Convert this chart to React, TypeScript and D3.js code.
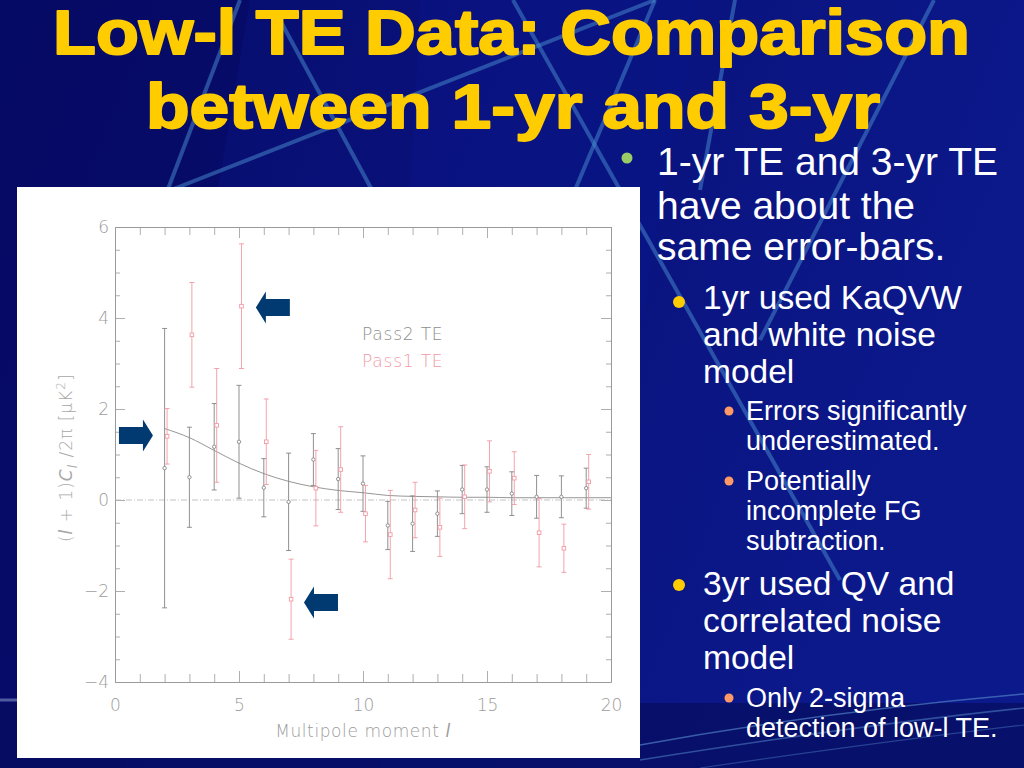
import React, { useEffect, useRef } from 'react';
import * as d3 from 'd3';

// multipole moments and TE band powers
const ells = [2, 3, 4, 5, 6, 7, 8, 9, 10, 11, 12, 13, 14, 15, 16, 17, 18, 19];
const pass2Values = [0.70, 0.50, 1.17, 1.28, 0.27, -0.04, 0.89, 0.46, 0.36, -0.56, -0.52, -0.30, 0.23, 0.23, 0.14, 0.07, 0.07, 0.26];
const pass2Errors = [3.07, 1.10, 0.95, 1.24, 0.64, 1.07, 0.57, 0.67, 0.61, 0.53, 0.61, 0.50, 0.53, 0.50, 0.48, 0.47, 0.46, 0.44];
const pass1Values = [1.40, 3.63, 1.64, 4.26, 1.28, -2.18, 0.26, 0.67, -0.30, -0.76, -0.22, -0.60, 0.07, 0.63, 0.48, -0.72, -1.06, 0.40];
const pass1Errors = [0.61, 1.15, 1.25, 1.37, 0.94, 0.88, 0.83, 0.94, 0.62, 0.97, 0.61, 0.64, 0.70, 0.67, 0.58, 0.75, 0.53, 0.60];

// model curve
const modelEll = [2, 3, 4, 5, 6, 7, 8, 9, 10, 11, 12, 13, 14, 15, 16, 17, 18, 19, 20];
const modelValues = [1.57, 1.37, 1.09, 0.81, 0.58, 0.41, 0.29, 0.21, 0.16, 0.10, 0.08, 0.07, 0.06, 0.06, 0.05, 0.05, 0.05, 0.05, 0.05];

const xTickLabels = [0, 5, 10, 15, 20];
const yTickLabels = [-4, -2, 0, 2, 4, 6];
const legendLabels = ['Pass2 TE', 'Pass1 TE'];

// annotation arrows (tip position in data units, direction)
const arrowEll = [5.68, 1.53, 7.62];
const arrowValues = [4.23, 1.42, -2.25];
const arrowDirs = [-1, 1, -1];

const GRAY = '#8e8e8e';
const PINK = '#f19aa4';
const LABEL_FONT = "'DejaVu Sans', 'Noto Sans', sans-serif";
const SLIDE_FONT = "'Liberation Sans', Arial, sans-serif";

const fmtMinus = (v: number) => (v < 0 ? '\u2212' + Math.abs(v) : String(v));

const TEChart: React.FC = () => {
  const gRef = useRef<SVGGElement>(null);

  useEffect(() => {
    if (!gRef.current) return;
    const g = d3.select(gRef.current);
    g.selectAll('*').remove();

    const x = d3.scaleLinear().domain([0, 20]).range([115, 611]);
    const y = d3.scaleLinear().domain([-4, 6]).range([682, 227]);

    const styleAxis = (sel: d3.Selection<SVGGElement, unknown, null, undefined>) => {
      sel.select('.domain').attr('stroke', '#9a9a9a').attr('stroke-width', 1);
      sel.selectAll('.tick line').attr('stroke', '#9a9a9a').attr('stroke-width', 0.8);
      sel.selectAll('.tick text')
        .attr('fill', '#9c9c9c')
        .attr('font-family', LABEL_FONT)
        .attr('font-weight', 200)
        .attr('font-size', 17);
    };

    const xAll = d3.range(0, 21);
    const yAll = d3.range(-4, 6.01, 0.5);

    const bottom = g.append('g')
      .attr('transform', `translate(0,${y(-4)})`)
      .call(d3.axisBottom(x).tickValues(xAll).tickSizeInner(-8).tickSizeOuter(0).tickPadding(17)
        .tickFormat(d => (xTickLabels.includes(+d) ? String(d) : '')));
    styleAxis(bottom);
    bottom.selectAll<SVGLineElement, number>('.tick line').attr('y2', d => (d % 5 === 0 ? -11 : -8));

    const top = g.append('g')
      .attr('transform', `translate(0,${y(6)})`)
      .call(d3.axisTop(x).tickValues(xAll).tickSizeInner(-8).tickSizeOuter(0).tickFormat(() => ''));
    styleAxis(top);
    top.selectAll<SVGLineElement, number>('.tick line').attr('y2', d => (d % 5 === 0 ? 11 : 8));

    const left = g.append('g')
      .attr('transform', `translate(${x(0)},0)`)
      .call(d3.axisLeft(y).tickValues(yAll).tickSizeInner(-5).tickSizeOuter(0).tickPadding(6)
        .tickFormat(d => (yTickLabels.includes(+d) ? fmtMinus(+d) : '')));
    styleAxis(left);
    left.selectAll<SVGLineElement, number>('.tick line').attr('x2', d => (d % 2 === 0 ? 10 : 5));

    const right = g.append('g')
      .attr('transform', `translate(${x(20)},0)`)
      .call(d3.axisRight(y).tickValues(yAll).tickSizeInner(-5).tickSizeOuter(0).tickFormat(() => ''));
    styleAxis(right);
    right.selectAll<SVGLineElement, number>('.tick line').attr('x2', d => (d % 2 === 0 ? -10 : -5));

    // zero line (dash-dot)
    g.append('line')
      .attr('x1', x(0)).attr('x2', x(20))
      .attr('y1', y(0)).attr('y2', y(0))
      .attr('stroke', '#b4b4b4')
      .attr('stroke-width', 0.8)
      .attr('stroke-dasharray', '6 2 1 2');

    // model curve
    const line = d3.line<number>()
      .x((_, i) => x(modelEll[i]))
      .y(d => y(d))
      .curve(d3.curveMonotoneX);
    g.append('path')
      .datum(modelValues)
      .attr('fill', 'none')
      .attr('stroke', '#8a8a8a')
      .attr('stroke-width', 0.9)
      .attr('d', line);

    const drawSeries = (vals: number[], errs: number[], color: string, offset: number, square: boolean) => {
      const s = g.append('g');
      const items = ells.map((l, i) => ({ l: l + offset, v: vals[i], e: errs[i] }));
      s.selectAll('.bar').data(items).enter().append('line')
        .attr('x1', d => x(d.l)).attr('x2', d => x(d.l))
        .attr('y1', d => y(d.v + d.e)).attr('y2', d => y(d.v - d.e))
        .attr('stroke', color).attr('stroke-width', 0.9);
      [1, -1].forEach(sign => {
        s.selectAll('.cap' + sign).data(items).enter().append('line')
          .attr('x1', d => x(d.l) - 2.5).attr('x2', d => x(d.l) + 2.5)
          .attr('y1', d => y(d.v + sign * d.e)).attr('y2', d => y(d.v + sign * d.e))
          .attr('stroke', color).attr('stroke-width', 0.9);
      });
      if (square) {
        s.selectAll('.pt').data(items).enter().append('rect')
          .attr('x', d => x(d.l) - 1.8).attr('y', d => y(d.v) - 1.8)
          .attr('width', 3.6).attr('height', 3.6)
          .attr('fill', '#fff').attr('stroke', color).attr('stroke-width', 0.9);
      } else {
        s.selectAll('.pt').data(items).enter().append('circle')
          .attr('cx', d => x(d.l)).attr('cy', d => y(d.v)).attr('r', 1.7)
          .attr('fill', '#fff').attr('stroke', color).attr('stroke-width', 0.9);
      }
    };
    drawSeries(pass2Values, pass2Errors, '#858585', 0, false);
    drawSeries(pass1Values, pass1Errors, PINK, 0.1, true);

    // legend
    g.selectAll('.legend').data(legendLabels).enter().append('text')
      .attr('x', x(10) - 1)
      .attr('y', (_, i) => y(3.52) + i * 27)
      .attr('fill', (_, i) => (i === 0 ? GRAY : PINK))
      .attr('font-family', LABEL_FONT)
      .attr('font-weight', 200)
      .attr('font-size', 17)
      .attr('letter-spacing', 0.8)
      .text(d => d);

    // arrows
    const arrowPath = (dir: number) => {
      // tip at origin, shape extends opposite to direction
      const L = 34, head = 10, bh = 8.5, hh = 16;
      const p = [
        [0, 0], [-dir * head, -hh], [-dir * head, -bh], [-dir * L, -bh],
        [-dir * L, bh], [-dir * head, bh], [-dir * head, hh],
      ];
      return 'M' + p.map(q => q.join(',')).join('L') + 'Z';
    };
    g.selectAll('.arrow').data(arrowEll).enter().append('path')
      .attr('transform', (d, i) => `translate(${x(d)},${y(arrowValues[i])})`)
      .attr('d', (_, i) => arrowPath(arrowDirs[i]))
      .attr('fill', '#003a70');

    // axis titles
    const xt = g.append('text')
      .attr('x', (x(0) + x(20)) / 2)
      .attr('y', 737)
      .attr('text-anchor', 'middle')
      .attr('fill', '#9c9c9c')
      .attr('font-family', LABEL_FONT)
      .attr('font-weight', 200)
      .attr('font-size', 17)
      .attr('letter-spacing', 0.6);
    xt.append('tspan').text('Multipole moment ');
    xt.append('tspan').attr('font-style', 'italic').text('l');

    const yt = g.append('text')
      .attr('transform', `translate(72,${(y(1) + y(2)) / 2 + 26}) rotate(-90)`)
      .attr('text-anchor', 'middle')
      .attr('fill', '#a8a8a8')
      .attr('font-family', LABEL_FONT)
      .attr('font-weight', 200)
      .attr('font-size', 17)
      .attr('letter-spacing', 1);
    yt.append('tspan').text('(');
    yt.append('tspan').attr('font-style', 'italic').text('l');
    yt.append('tspan').text(' + 1)');
    yt.append('tspan').attr('font-style', 'italic').text('C');
    yt.append('tspan').attr('font-style', 'italic').attr('font-size', 12).attr('dy', 5).text('l');
    yt.append('tspan').attr('dy', -5).text(' /2\u03C0  [\u03BCK');
    yt.append('tspan').attr('font-size', 12).attr('dy', -7).text('2');
    yt.append('tspan').attr('dy', 7).text(']');
  }, []);

  return <g ref={gRef} />;
};

const App: React.FC = () => {
  const bgLines: [number, number, number, number][] = [
    [171, 190, 655, 0],
    [240, 0, 160, 210],
    [280, 20, 372, 190],
    [513, 0, 840, 580],
    [934, 0, 760, 340],
    [575, 190, 655, 0],
    [735, 0, 700, 190],
  ];
  return (
    <svg width={1024} height={768} viewBox="0 0 1024 768"
      style={{ position: 'fixed', left: 0, top: 0, display: 'block' }}>
      <defs>
        <linearGradient id="bg" x1="0" y1="0" x2="1" y2="0.3">
          <stop offset="0%" stopColor="#060c69" />
          <stop offset="45%" stopColor="#09117a" />
          <stop offset="100%" stopColor="#0c198b" />
        </linearGradient>
        <linearGradient id="green" x1="0" y1="0" x2="1" y2="0">
          <stop offset="0%" stopColor="#9ccc6a" stopOpacity={1} />
          <stop offset="75%" stopColor="#9ccc6a" stopOpacity={0.9} />
          <stop offset="100%" stopColor="#9ccc6a" stopOpacity={0} />
        </linearGradient>
      </defs>
      <rect x={0} y={0} width={1024} height={768} fill="url(#bg)" />
      <polygon points="0,0 250,0 120,768 0,768" fill="#050a60" opacity={0.55} />
      <polygon points="420,0 700,0 560,768 380,768" fill="#0b1890" opacity={0.3} />
      <rect x={0} y={703} width={1024} height={65} fill="#050d5e" opacity={0.7} />
      {bgLines.map((l, i) => (
        <line key={i} x1={l[0]} y1={l[1]} x2={l[2]} y2={l[3]}
          stroke="#4a8fd0" strokeWidth={4} opacity={0.5} />
      ))}
      <path d="M 640 745 Q 820 712 1024 694" fill="none" stroke="#5a8fd0" strokeWidth={1.5} opacity={0.6} />
      <path d="M 640 760 Q 860 725 1024 708" fill="none" stroke="#5a8fd0" strokeWidth={1.5} opacity={0.5} />
      <path d="M 700 768 Q 880 742 1024 725" fill="none" stroke="#5a8fd0" strokeWidth={1.2} opacity={0.4} />
      <line x1={0} y1={700} x2={640} y2={700} stroke="#7f93c4" strokeWidth={3} opacity={0.6} />
      <line x1={640} y1={701} x2={1024} y2={701} stroke="url(#green)" strokeWidth={3} />

      {/* title */}
      <g fontFamily={SLIDE_FONT} fontWeight="bold" fontSize={63} fill="#ffcc00"
        stroke="#ffcc00" strokeWidth={2} strokeLinejoin="round">
        <text x={53} y={54} textLength={917} lengthAdjust="spacingAndGlyphs">Low-l TE Data: Comparison</text>
        <text x={146} y={128} textLength={734} lengthAdjust="spacingAndGlyphs">between 1-yr and 3-yr</text>
      </g>

      {/* white plot panel */}
      <rect x={17} y={187} width={623} height={571} fill="#ffffff" />
      <TEChart />

      {/* bullets */}
      <g fontFamily={SLIDE_FONT} fill="#ffffff">
        <circle cx={627} cy={158} r={5.5} fill="#99cc66" />
        <g fontSize={39}>
          <text x={657} y={175}>1-yr TE and 3-yr TE</text>
          <text x={657} y={219}>have about the</text>
          <text x={657} y={260}>same error-bars.</text>
        </g>
        <circle cx={679} cy={302} r={6} fill="#ffcc00" />
        <g fontSize={33.5}>
          <text x={703} y={309}>1yr used KaQVW</text>
          <text x={703} y={346}>and white noise</text>
          <text x={703} y={383}>model</text>
        </g>
        <circle cx={729} cy={411} r={4.5} fill="#ff9966" />
        <circle cx={729} cy={481} r={4.5} fill="#ff9966" />
        <g fontSize={27}>
          <text x={746} y={420}>Errors significantly</text>
          <text x={746} y={450}>underestimated.</text>
          <text x={746} y={490}>Potentially</text>
          <text x={746} y={520}>incomplete FG</text>
          <text x={746} y={550}>subtraction.</text>
        </g>
        <circle cx={679} cy={585} r={6} fill="#ffcc00" />
        <g fontSize={33.5}>
          <text x={703} y={595}>3yr used QV and</text>
          <text x={703} y={632}>correlated noise</text>
          <text x={703} y={669}>model</text>
        </g>
        <circle cx={729} cy={698} r={4.5} fill="#ff9966" />
        <g fontSize={27}>
          <text x={746} y={707}>Only 2-sigma</text>
          <text x={746} y={737}>detection of low-l TE.</text>
        </g>
      </g>
    </svg>
  );
};

export default App;
